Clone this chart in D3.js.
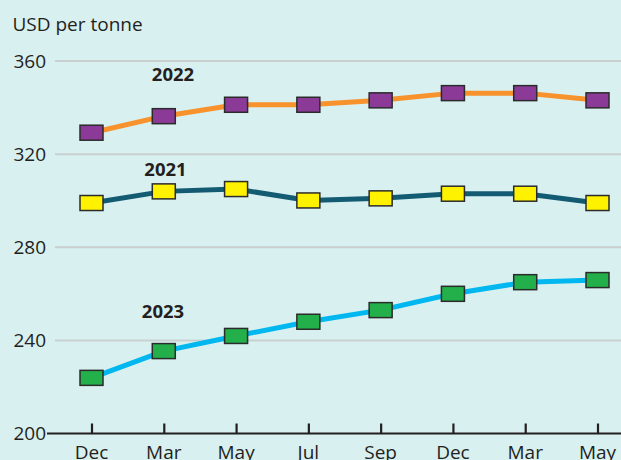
<!DOCTYPE html>
<html><head><meta charset="utf-8">
<script src="https://cdn.jsdelivr.net/npm/d3@7"></script>
<style>body{margin:0;background:#d9f0f0;}svg{display:block;}</style>
</head><body>
<svg id="c" width="621" height="460"></svg>
<script>
const months = ["Dec","Mar","May","Jul","Sep","Dec","Mar","May"];
const yTicks = [200,240,280,320,360];
const s2022 = [329.2,336.3,341.2,341.2,343.1,346.2,346.2,343.1];
const s2021 = [299,304,305,300.1,301,303,303,299];
const s2023 = [223.9,235.4,241.9,248,253,260,265,265.9];
const seriesNames = ["2022","2021","2023"];
const lineColors = ["#f7922d","#135b73","#00b7ef"];
const markerColors = ["#8b3b97","#fff200","#23b04b"];

const svg = d3.select("#c");
const font = "'Open Sans', 'Noto Sans', sans-serif";
svg.append("rect").attr("width",621).attr("height",460).attr("fill","#d9f0f0");

const x = d3.scalePoint().domain(d3.range(months.length)).range([91.5,597.5]);
const y = d3.scaleLinear().domain([200,360]).range([433.5,61]);

// gridlines
svg.append("g").selectAll("line").data(yTicks.filter(d=>d>200)).join("line")
  .attr("x1",55).attr("x2",621).attr("y1",d=>y(d)).attr("y2",d=>y(d))
  .attr("stroke","#c9cfcf").attr("stroke-width",2);

// y labels
svg.append("g").selectAll("text").data(yTicks).join("text")
  .attr("x",46).attr("y",d=>y(d)).attr("dy","0.36em").attr("text-anchor","end")
  .attr("font-family",font).attr("font-size",19).attr("fill","#231f20").text(d=>d);

svg.append("text").attr("x",12.5).attr("y",30.5).attr("font-family",font).attr("font-size",19)
  .attr("fill","#231f20").text("USD per tonne");

// x axis
const xAxis = d3.axisTop(x).tickSize(10).tickFormat(()=> "");
const gx = svg.append("g").attr("transform",`translate(0,${y(200)})`).call(xAxis);
gx.select(".domain").remove();
gx.selectAll(".tick line").attr("stroke","#231f20").attr("stroke-width",2.2);
svg.append("line").attr("x1",47).attr("x2",621).attr("y1",y(200)).attr("y2",y(200))
  .attr("stroke","#231f20").attr("stroke-width",2);
svg.append("g").selectAll("text").data(months).join("text")
  .attr("x",(d,i)=>x(i)).attr("y",458.5).attr("text-anchor","middle")
  .attr("font-family",font).attr("font-size",19).attr("fill","#231f20").text(d=>d);

const data = [s2022,s2021,s2023];
const line = d3.line().x((d,i)=>x(i)).y(d=>y(d));
data.forEach((s,k)=>{
  svg.append("path").attr("d",line(s)).attr("fill","none")
    .attr("stroke",lineColors[k]).attr("stroke-width",5).attr("stroke-linejoin","round");
});
data.forEach((s,k)=>{
  svg.append("g").selectAll("rect").data(s).join("rect")
    .attr("x",(d,i)=>x(i)-11.5).attr("y",d=>y(d)-7.5).attr("width",23).attr("height",15)
    .attr("fill",markerColors[k]).attr("stroke","#2b2b2b").attr("stroke-width",1.5);
});
// series labels
const labelX = [173,165.5,163];
const labelY = [74,169.5,311];
seriesNames.forEach((n,k)=>{
  svg.append("text").attr("x",labelX[k]).attr("y",labelY[k]).attr("dy","0.36em")
    .attr("text-anchor","middle").attr("font-family",font).attr("font-weight","bold")
    .attr("font-size",18.5).attr("fill","#231f20").text(n);
});
</script>
</body></html>
